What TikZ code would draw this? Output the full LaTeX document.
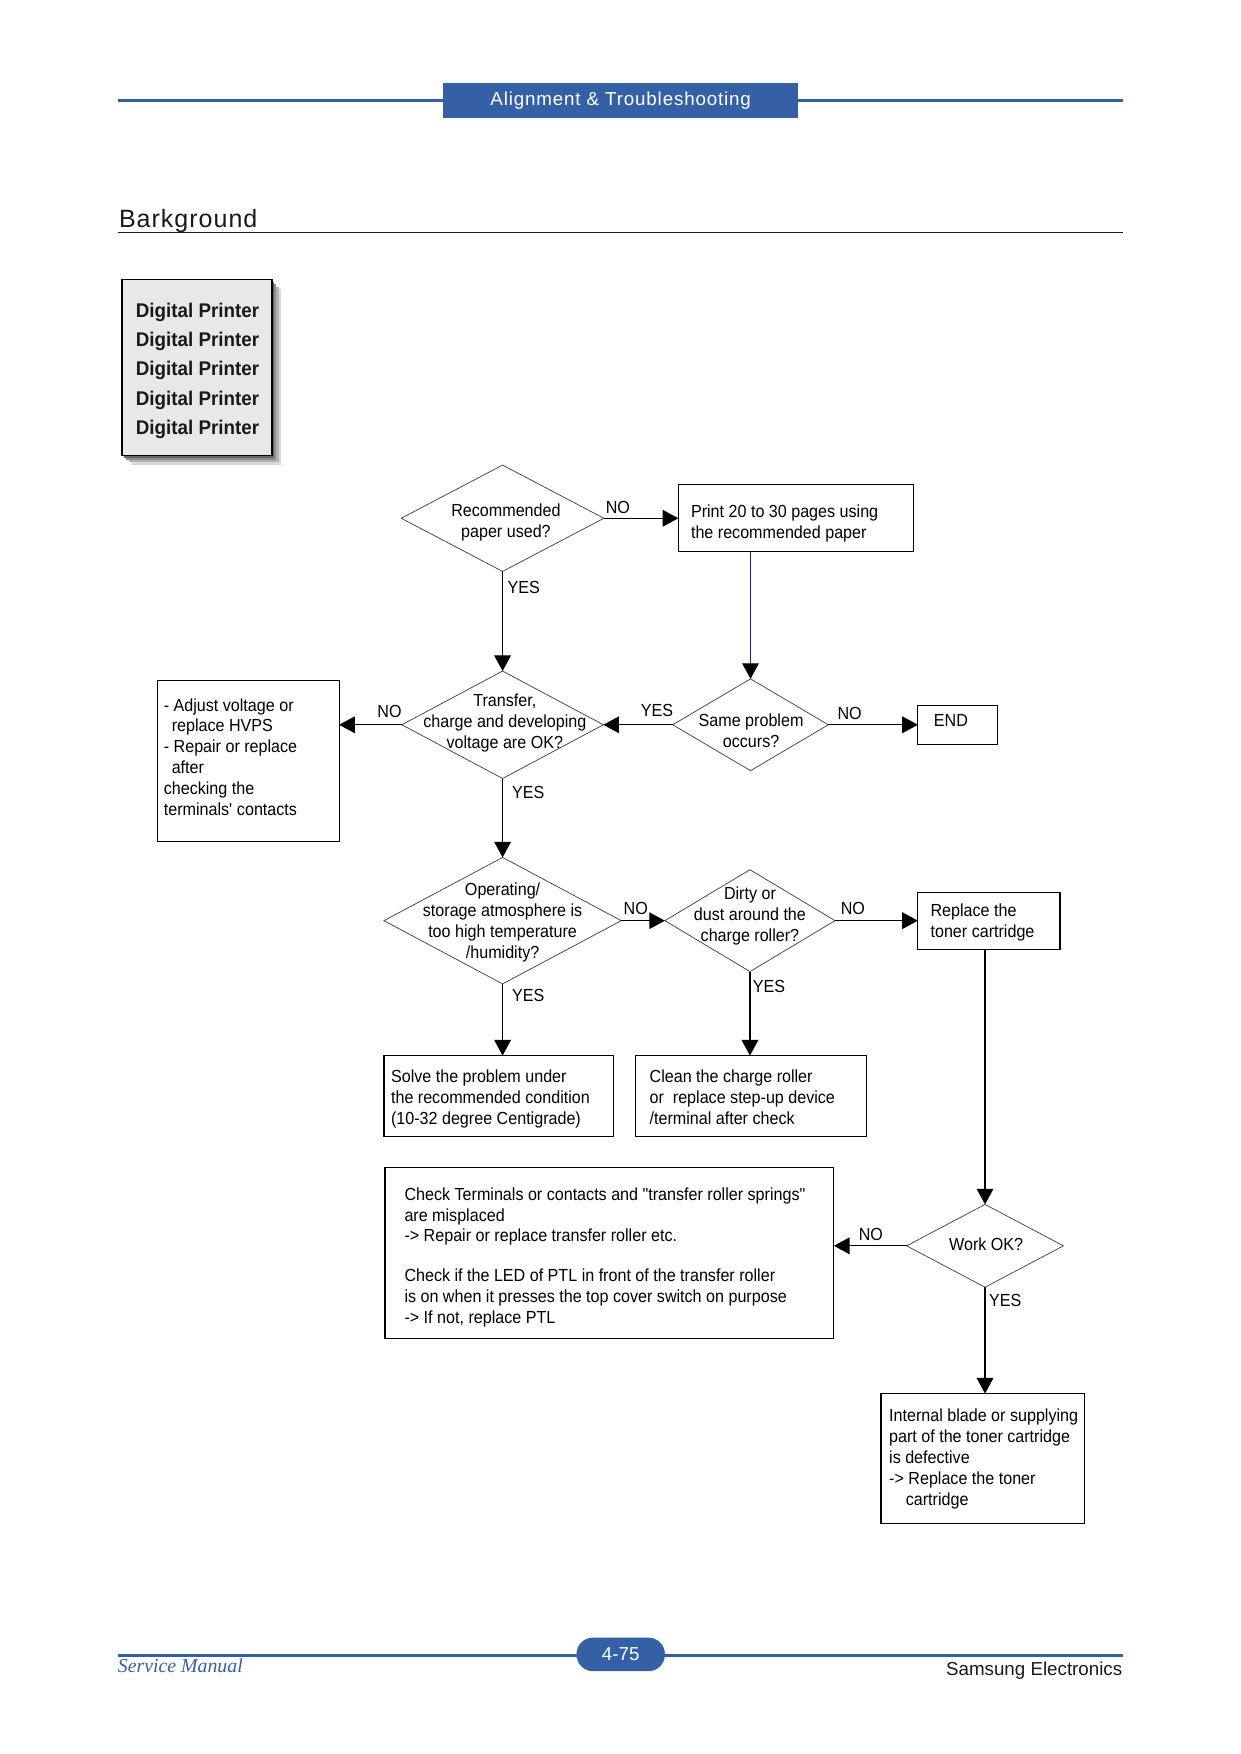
\documentclass[tikz,border=0pt]{standalone}
\usepackage{fontspec}
\setmainfont{Liberation Sans}
\newfontfamily\fcfont[FakeStretch=0.92]{Liberation Sans}
\newfontfamily\dpfont[FakeStretch=0.95]{Liberation Sans}
\newfontfamily\hdfont[LetterSpace=4.5]{Liberation Sans}
\newfontfamily\bgfont[LetterSpace=4]{Liberation Sans}
\newfontfamily\smfont{Liberation Serif}
\usetikzlibrary{arrows.meta,shapes.geometric}
\definecolor{sblue}{RGB}{52,97,166}
\definecolor{navyline}{RGB}{35,35,120}
\def\unitpx{0.537pt}
\newcommand\fcsize{\fcfont\fontsize{8.4}{10}\selectfont}
\begin{document}
\begin{tikzpicture}[x=0.537pt, y=-0.537pt,
  dia/.style={diamond, draw=black!75, line width=0.35pt, inner sep=0pt, outer sep=0pt},
  box/.style={rectangle, draw=black, line width=0.55pt, inner sep=0pt, outer sep=0pt, anchor=north west},
  txt/.style={inner sep=0pt, font=\fcsize, align=left, anchor=north west},
  dtxt/.style={inner sep=0pt, font=\fcsize, align=center},
  lbl/.style={inner sep=0pt, font=\fcsize},
  conn/.style={line width=0.55pt, -{Triangle[length=7.5pt,width=8pt,color=black]}}
]
\useasboundingbox (0,0) rectangle (1108,1567);

% header
\draw[sblue, line width=1.2pt] (105,90) -- (1003,90);
\node[fill=sblue, inner sep=0pt, minimum width=317*\unitpx, minimum height=31*\unitpx,
      text=white, font=\hdfont\fontsize{9}{11}\selectfont] (hdr) at (554.5,89.5) {Alignment \& Troubleshooting};
\node[anchor=base west, inner sep=0pt, font=\bgfont\fontsize{12}{14}\selectfont, text=black!90] (bg) at (106,203) {Barkground};
\draw[line width=0.6pt, black!90] (105,208) -- (1003,208);

% Digital printer box with soft shadow
\fill[black!15] (117,258) rectangle (251,415);
\fill[black!30] (115,256) rectangle (249,413);
\fill[black!45] (113,254) rectangle (247,411);
\fill[black!60] (111,252) rectangle (245,409);
\node[box, fill=black!9, minimum width=134*\unitpx, minimum height=157*\unitpx] (dp) at (109,250) {};
\node[anchor=north west, inner sep=0pt, align=left, text=black!90,
      font=\dpfont\bfseries\fontsize{9.5}{14}\selectfont] (dpt) at (121,270.5)
  {Digital Printer\\Digital Printer\\Digital Printer\\Digital Printer\\Digital Printer};

% diamonds
\node[dia, minimum width=181*\unitpx, minimum height=95*\unitpx] (d1) at (449,463) {};
\node[dtxt] (d1t) at (452,467) {Recommended\\paper used?};
\node[dia, minimum width=180*\unitpx, minimum height=96*\unitpx] (d2) at (449,647.5) {};
\node[dtxt] (d2t) at (451,646) {Transfer,\\charge and developing\\voltage are OK?};
\node[dia, minimum width=139*\unitpx, minimum height=82*\unitpx] (d3) at (670.5,647.5) {};
\node[dtxt] (d3t) at (671,653) {Same problem\\occurs?};
\node[dia, minimum width=212*\unitpx, minimum height=113*\unitpx] (d4) at (449,822.5) {};
\node[dtxt] (d4t) at (449,824) {Operating/\\storage atmosphere is\\too high temperature\\/humidity?};
\node[dia, minimum width=152*\unitpx, minimum height=91*\unitpx] (d5) at (670,822.5) {};
\node[dtxt] (d5t) at (670,818) {Dirty or\\dust around the\\charge roller?};
\node[dia, minimum width=140*\unitpx, minimum height=74*\unitpx] (d6) at (880,1113) {};
\node[dtxt] (d6t) at (881,1112) {Work OK?};

% boxes
\node[box, minimum width=210*\unitpx, minimum height=60*\unitpx] (b1) at (606,433) {};
\node[txt] (b1t) at (617,450.5) {Print 20 to 30 pages using\\the recommended paper};
\node[box, minimum width=162*\unitpx, minimum height=144*\unitpx] (b2) at (141,608) {};
\node[txt] (b2t) at (146,623.5) {- Adjust voltage or\\\hspace*{3.8pt}replace HVPS\\- Repair or replace\\\hspace*{3.8pt}after\\checking the\\terminals\textquotesingle{} contacts};
\node[box, minimum width=71*\unitpx, minimum height=35*\unitpx] (end) at (820,630) {};
\node[txt] (endt) at (834,637.5) {END};
\node[box, minimum width=127*\unitpx, minimum height=51*\unitpx] (b5) at (820,797) {};
\node[txt] (b5t) at (831,807.5) {Replace the\\toner cartridge};
\node[box, minimum width=205*\unitpx, minimum height=72*\unitpx] (b3) at (343,943) {};
\node[txt] (b3t) at (349,955.5) {Solve the problem under\\the recommended condition\\(10-32 degree Centigrade)};
\node[box, minimum width=206*\unitpx, minimum height=72*\unitpx] (b4) at (568,943) {};
\node[txt] (b4t) at (580,955.5) {Clean the charge roller\\or\ \ replace step-up device\\/terminal after check};
\node[box, minimum width=401*\unitpx, minimum height=153*\unitpx] (b6) at (344,1043) {};
\node[txt] (b6t) at (361,1060.5) {Check Terminals or contacts and "transfer roller springs"\\are misplaced\\-> Repair or replace transfer roller etc.\\[9pt]Check if the LED of PTL in front of the transfer roller\\is on when it presses the top cover switch on purpose\\-> If not, replace PTL};
\node[box, minimum width=182*\unitpx, minimum height=116*\unitpx] (b7) at (787,1245) {};
\node[txt] (b7t) at (794,1258.5) {Internal blade or supplying\\part of the toner cartridge\\is defective\\-> Replace the toner\\\hspace*{8pt}cartridge};

% connectors
\draw[conn] (d1.east) -- (b1.west);
\draw[conn] (d1.south) -- (d2.north);
\draw[conn, draw=navyline] (d3.north |- b1.south) -- (d3.north);
\draw[conn] (d2.west) -- (d2.west -| b2.east);
\draw[conn] (d3.west) -- (d2.east);
\draw[conn] (d3.east) -- (end.west);
\draw[conn] (d2.south) -- (d4.north);
\draw[conn] (d4.east) -- (d5.west);
\draw[conn] (d5.east) -- (b5.west);
\draw[conn] (d4.south) -- (d4.south |- b3.north);
\draw[conn] (d5.south) -- (d5.south |- b4.north);
\draw[conn] (d6.north |- b5.south) -- (d6.north);
\draw[conn] (d6.west) -- (d6.west -| b6.east);
\draw[conn] (d6.south) -- (d6.south |- b7.north);

% labels
\node[lbl] (l1) at (552,453) {NO};
\node[lbl] (l2) at (468,525) {YES};
\node[lbl] (l3) at (348,636) {NO};
\node[lbl] (l4) at (587,635) {YES};
\node[lbl] (l5) at (759,637) {NO};
\node[lbl] (l6) at (472,708) {YES};
\node[lbl] (l7) at (568,812) {NO};
\node[lbl] (l8) at (762,812) {NO};
\node[lbl] (l9) at (472,889) {YES};
\node[lbl] (l10) at (687,881) {YES};
\node[lbl] (l11) at (778,1103) {NO};
\node[lbl] (l12) at (898,1162) {YES};

% footer
\draw[sblue, line width=1.2pt] (105,1479) -- (1003,1479);
\node[fill=sblue, rounded corners=7.9pt, inner sep=0pt, minimum width=79*\unitpx, minimum height=30*\unitpx,
      text=white, font=\fontsize{9}{11}\selectfont] (pg) at (554.5,1478) {4-75};
\node[anchor=base west, inner sep=0pt, text=sblue, font=\smfont\itshape\fontsize{9.5}{11}\selectfont] (sm) at (105,1494) {Service Manual};
\node[anchor=base east, inner sep=0pt, text=black!90, font=\fontsize{9}{11}\selectfont] (se) at (1003,1497) {Samsung Electronics};
\end{tikzpicture}
\end{document}
